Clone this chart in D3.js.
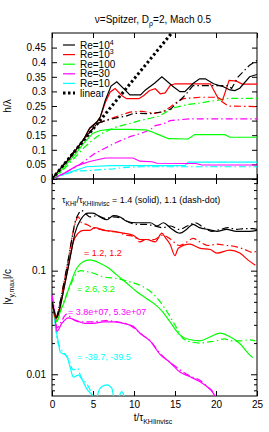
<!DOCTYPE html>
<html>
<head>
<meta charset="utf-8">
<script src="https://cdn.jsdelivr.net/npm/d3@7"></script>
<style>
  body { margin: 0; background: #fff; }
  svg text { font-family: "Liberation Sans", Arial, sans-serif; }
</style>
</head>
<body>
<div id="chart"></div>
<script>
// ---- data: [t / tau_KHIinvisc, value] ----
var xTicks = [0, 5, 10, 15, 20, 25];
var topTicks = [0, 0.05, 0.1, 0.15, 0.2, 0.25, 0.3, 0.35, 0.4, 0.45];
var botLabels = [0.01, 0.1];

var colors = ["#000000", "#ff0000", "#00ff00", "#ff00ff", "#00ffff"];
var legendNames = ["4", "3", "100", "30", "10"];   // Re=10^4, 10^3, 100, 30, 10

// top panel h/lambda, solid
var h1e4 = [[0,0],[1,0.035],[2.2,0.072],[3.8,0.133],[4.6,0.174],[5.5,0.196],[5.9,0.213],[6.5,0.27],[7.2,0.318],[7.9,0.333],[8.9,0.305],[9.5,0.288],[10.8,0.288],[11.4,0.305],[12.5,0.328],[13.4,0.35],[14.8,0.316],[15.6,0.299],[16.2,0.299],[17.2,0.327],[18,0.343],[18.7,0.343],[19.7,0.326],[20.9,0.316],[21.7,0.305],[22.3,0.303],[22.9,0.311],[24.1,0.35],[25,0.358]];
var h1e3 = [[0,0],[1,0.035],[2.2,0.072],[3.8,0.133],[4.6,0.174],[5.5,0.196],[5.9,0.213],[6.5,0.262],[7.1,0.298],[7.7,0.31],[8.5,0.286],[9.1,0.275],[10.6,0.275],[11.2,0.286],[11.9,0.303],[12.6,0.309],[13.2,0.292],[13.8,0.295],[14.4,0.32],[15,0.326],[19.3,0.326],[20.2,0.28],[20.8,0.27],[21.6,0.338],[22.5,0.335],[23.2,0.325],[25,0.325]];
var h100 = [[0,0],[1,0.025],[2.2,0.065],[3,0.09],[3.8,0.12],[5,0.157],[5.9,0.166],[7,0.17],[9.5,0.17],[11.5,0.168],[12.3,0.16],[13,0.152],[14.2,0.138],[16.6,0.137],[17.4,0.152],[21.1,0.152],[21.7,0.143],[25,0.143]];
var h30 = [[0,0],[1.5,0.02],[3,0.045],[4.6,0.06],[6.5,0.072],[9.9,0.072],[10.7,0.061],[12.2,0.059],[12.8,0.054],[17.5,0.053],[18.3,0.048],[25,0.048]];
var h10 = [[0,0],[1,0.012],[2,0.022],[3,0.031],[4.2,0.042],[7.1,0.046],[16.2,0.046],[16.6,0.058],[25,0.058]];
// top panel, dash-dot
var h1e4d = [[0,0],[2,0.07],[4,0.14],[5.5,0.19],[6.5,0.2],[8,0.21],[9,0.215],[10,0.225],[12,0.224],[13.5,0.23],[14.5,0.24],[15.2,0.26],[15.8,0.275],[16.4,0.292],[17.2,0.32],[21.5,0.32],[21.9,0.31],[22.7,0.35],[24.1,0.39],[25,0.406]];
var h1e3d = [[0,0],[2,0.07],[4,0.14],[5.5,0.19],[6.5,0.2],[7.5,0.21],[8.3,0.218],[9.5,0.229],[11,0.232],[12.5,0.225],[13.5,0.23],[14.4,0.246],[15.2,0.263],[16,0.275],[18,0.28],[20,0.28],[20.7,0.265],[21.5,0.25],[25,0.248]];
var h100d = [[0,0],[1,0.02],[2,0.05],[3,0.08],[4,0.11],[5,0.135],[6,0.155],[7,0.168],[7.7,0.177],[9.5,0.19],[10.7,0.2],[12,0.208],[13,0.215],[14,0.23],[15,0.245],[16.5,0.255],[18,0.26],[19,0.265],[20.3,0.27],[21.5,0.276],[25,0.276]];
var h30d = [[0,0],[1,0.012],[2,0.028],[3,0.042],[3.8,0.058],[5.2,0.087],[6.7,0.109],[7.9,0.126],[9.5,0.145],[10.7,0.155],[11.95,0.168],[12.6,0.183],[13.6,0.189],[14.4,0.2],[15.6,0.203],[16.8,0.206],[25,0.206]];
var h10d = [[0,0],[1,0.01],[2,0.02],[3,0.027],[5,0.03],[7.5,0.035],[9,0.04],[11,0.042],[25,0.042]];
var hLinear = [[0,0],[14.6,0.5]];

// bottom panel |v_y,max|/c, solid
var v1e4 = [[0,0.05],[0.3,0.04],[0.55,0.035],[1,0.045],[1.5,0.07],[2,0.11],[2.4,0.16],[2.8,0.23],[3.6,0.32],[4.4,0.36],[5,0.36],[5.85,0.33],[6.7,0.31],[7.5,0.34],[8.3,0.33],[9.1,0.3],[10.3,0.29],[11.5,0.29],[12,0.29],[12.8,0.27],[13.6,0.29],[14.4,0.26],[15.6,0.23],[16.4,0.25],[17.2,0.28],[18,0.26],[19,0.25],[20.1,0.24],[21.3,0.25],[22.5,0.24],[24.1,0.24],[25,0.245]];
var v1e3 = [[0,0.05],[0.5,0.034],[1,0.045],[1.5,0.07],[2,0.11],[2.6,0.19],[3.2,0.23],[3.8,0.245],[4.6,0.245],[5.2,0.26],[6.3,0.245],[7.5,0.24],[8.7,0.23],[9.9,0.22],[10.7,0.2],[11.5,0.2],[12.6,0.19],[13.4,0.23],[13.8,0.21],[14.4,0.18],[15,0.14],[15.4,0.165],[16.8,0.18],[18,0.165],[19.3,0.16],[20.1,0.148],[21.7,0.158],[22.9,0.148],[24,0.125],[24.8,0.113]];
var v100 = [[0,0.05],[0.57,0.032],[1,0.04],[1.5,0.05],[2.2,0.073],[3,0.105],[3.8,0.122],[4.6,0.127],[5.85,0.118],[6.9,0.106],[7.9,0.091],[9.1,0.076],[10.3,0.063],[11.5,0.054],[12.6,0.047],[13.5,0.04],[14.4,0.032],[15.6,0.024],[16.4,0.022],[18,0.021],[19.3,0.023],[20.5,0.025],[21.7,0.023],[22.9,0.0198],[24.1,0.0154],[24.5,0.0145]];
var v30 = [[0,0.056],[0.3,0.04],[0.6,0.026],[1.2,0.031],[2,0.035],[3,0.033],[4,0.031],[5,0.031],[6.3,0.032],[7.5,0.032],[8.7,0.031],[9.9,0.029],[10.7,0.025],[11.95,0.021],[13.2,0.0155],[14.4,0.013],[15.6,0.0105],[16.8,0.0095],[18,0.0085],[19,0.0075],[19.7,0.0065],[20,0.0058]];
var v10 = [[0,0.052],[0.3,0.035],[0.6,0.024],[0.8,0.02],[1,0.0165],[1.8,0.015],[2.2,0.0118],[2.6,0.0094],[3.2,0.0098],[3.8,0.0085],[4.2,0.0073],[5,0.0062],[5.3,0.0057],[5.85,0.0073],[6.7,0.0079],[7.3,0.0073],[7.6,0.0058],[8,0.0058],[8.5,0.0068],[8.9,0.0058]];
// bottom panel, dash-dot
var v1e4d = [[0,0.05],[0.5,0.036],[1,0.05],[1.5,0.08],[2,0.13],[2.5,0.22],[2.8,0.29],[3.2,0.35],[3.6,0.38],[4.2,0.35],[4.6,0.33],[5.5,0.34],[6.5,0.32],[7.5,0.33],[8.5,0.32],[9.5,0.29],[10.5,0.28],[11.5,0.28],[12.5,0.27],[13.5,0.26],[14.5,0.27],[15.5,0.25],[16.5,0.27],[17.5,0.29],[18.5,0.26],[19.5,0.24],[20.5,0.25],[21.5,0.26],[22.5,0.25],[23.5,0.255],[24.5,0.255],[25,0.25]];
var v1e3d = [[0,0.05],[0.5,0.035],[1,0.05],[1.5,0.08],[2,0.13],[2.5,0.22],[2.9,0.3],[3.2,0.33],[3.6,0.29],[4.2,0.28],[5,0.26],[6,0.25],[7,0.24],[8,0.235],[9,0.22],[10,0.215],[10.7,0.19],[11.5,0.2],[12.5,0.2],[13.5,0.22],[14.5,0.2],[15.5,0.175],[16.5,0.19],[17.2,0.205],[18,0.19],[19,0.175],[20.1,0.18],[21.3,0.175],[22.5,0.17],[23.5,0.16],[24.5,0.15],[25,0.155]];
var v100d = [[0,0.05],[0.6,0.033],[1.2,0.045],[2,0.065],[2.5,0.08],[3,0.095],[3.5,0.1],[4.2,0.098],[5,0.095],[6.3,0.087],[7.9,0.084],[9.5,0.078],[11.1,0.07],[12,0.063],[13.2,0.05],[14.4,0.036],[15.2,0.028],[16,0.022],[17,0.0205],[18,0.02],[19,0.0205],[20,0.021],[21,0.022],[22,0.021],[23,0.021],[24,0.0215],[24.8,0.021]];
var v30d = [[0,0.058],[0.3,0.042],[0.6,0.028],[1.1,0.032],[1.8,0.038],[2.5,0.034],[3.5,0.032],[5,0.032],[6.5,0.033],[8,0.032],[9,0.031],[10,0.028],[11,0.024],[12,0.021],[13,0.0165],[14,0.0138],[15,0.012],[16,0.0105],[17,0.0095],[18,0.0088],[19,0.0075],[19.7,0.0066],[20,0.0058]];
var v10d = [[0,0.055],[0.3,0.035],[0.6,0.022],[1,0.018],[1.5,0.016],[2,0.014],[2.6,0.011],[3.1,0.0115],[3.5,0.0095],[4,0.0085],[4.6,0.0072],[5,0.0058]];

var topSolid = [h1e4, h1e3, h100, h30, h10];
var topDash = [h1e4d, h1e3d, h100d, h30d, h10d];
var botSolid = [v1e4, v1e3, v100, v30, v10];
var botDash = [v1e4d, v1e3d, v100d, v30d, v10d];

// ---- layout ----
var W = 269, H = 432;
var left = 52, right = 257, top1 = 33, mid = 179, bot = 396;
var dashPat = "7,3,1.5,3";

var svg = d3.select("#chart").append("svg")
    .attr("width", W).attr("height", H);

var x = d3.scaleLinear().domain([0, 25]).range([left, right]);
var yTop = d3.scaleLinear().domain([0, 0.5]).range([mid, top1]);
var yBot = d3.scaleLog().domain([0.00617, 0.767]).range([bot, mid]);

svg.append("clipPath").attr("id", "clipTop").append("rect")
    .attr("x", left).attr("y", top1).attr("width", right - left).attr("height", mid - top1);
svg.append("clipPath").attr("id", "clipBot").append("rect")
    .attr("x", left).attr("y", mid).attr("width", right - left).attr("height", bot - mid);

// title
var title = svg.append("text").attr("x", 153).attr("y", 23)
    .attr("text-anchor", "middle").attr("font-size", 10);
title.append("tspan").text("\u03bd=Spitzer, D");
title.append("tspan").attr("font-size", 7).attr("dy", 2.5).text("\u03c1");
title.append("tspan").attr("dy", -2.5).text("=2, Mach 0.5");

// ---- axes (inward ticks, mirrored) ----
function styleAxis(g) {
    g.select(".domain").remove();
    g.selectAll("text").attr("font-size", 10).attr("fill", "#000")
        .attr("font-family", "Liberation Sans, Arial, sans-serif");
}

// top panel y
svg.append("g").attr("transform", "translate(" + left + ",0)")
    .call(d3.axisLeft(yTop).tickValues(topTicks).tickSize(-5).tickPadding(6)
        .tickFormat(function (d) { return d === 0 ? "0" : d3.format("")(+d.toFixed(2)); }))
    .call(styleAxis);
svg.append("g").attr("transform", "translate(" + right + ",0)")
    .call(d3.axisRight(yTop).tickValues(topTicks).tickSize(-5).tickFormat(""))
    .call(styleAxis);

// x ticks: top of top panel, both sides of the shared edge, bottom
svg.append("g").attr("transform", "translate(0," + top1 + ")")
    .call(d3.axisTop(x).tickValues(xTicks).tickSize(-5).tickFormat(""))
    .call(styleAxis);
svg.append("g").attr("transform", "translate(0," + mid + ")")
    .call(d3.axisBottom(x).tickValues(xTicks).tickSize(-5).tickFormat(""))
    .call(styleAxis);
svg.append("g").attr("transform", "translate(0," + mid + ")")
    .call(d3.axisTop(x).tickValues(xTicks).tickSize(-5).tickFormat(""))
    .call(styleAxis);
svg.append("g").attr("transform", "translate(0," + bot + ")")
    .call(d3.axisBottom(x).tickValues(xTicks).tickSize(-5).tickPadding(5))
    .call(styleAxis);

// bottom panel log y: major + minor
var logTicks = yBot.ticks();
var isMajor = function (d) { return botLabels.indexOf(d) >= 0; };
[[left, d3.axisLeft, 1], [right, d3.axisRight, 0]].forEach(function (a) {
    svg.append("g").attr("transform", "translate(" + a[0] + ",0)")
        .call(a[1](yBot).tickValues(botLabels).tickSize(-6).tickPadding(6)
            .tickFormat(a[2] ? function (d) { return String(d); } : ""))
        .call(styleAxis);
    svg.append("g").attr("transform", "translate(" + a[0] + ",0)")
        .call(a[1](yBot).tickValues(logTicks.filter(function (d) { return !isMajor(d); }))
            .tickSize(-3).tickFormat(""))
        .call(styleAxis);
});

// frames
svg.append("rect").attr("x", left).attr("y", top1).attr("width", right - left).attr("height", mid - top1)
    .attr("fill", "none").attr("stroke", "#000").attr("stroke-width", 1);
svg.append("rect").attr("x", left).attr("y", mid).attr("width", right - left).attr("height", bot - mid)
    .attr("fill", "none").attr("stroke", "#000").attr("stroke-width", 1);

// ---- lines ----
var lineTop = d3.line().x(function (d) { return x(d[0]); }).y(function (d) { return yTop(d[1]); });
var lineBot = d3.line().x(function (d) { return x(d[0]); }).y(function (d) { return yBot(d[1]); })
    .curve(d3.curveMonotoneX);

var gTop = svg.append("g").attr("clip-path", "url(#clipTop)");
var gBot = svg.append("g").attr("clip-path", "url(#clipBot)");

// draw lowest Re first so black ends on top
for (var i = 4; i >= 0; i--) {
    gTop.append("path").datum(topDash[i]).attr("d", lineTop)
        .attr("fill", "none").attr("stroke", colors[i]).attr("stroke-width", 1.2)
        .attr("stroke-dasharray", dashPat);
    gTop.append("path").datum(topSolid[i]).attr("d", lineTop)
        .attr("fill", "none").attr("stroke", colors[i]).attr("stroke-width", 1.2);
    gBot.append("path").datum(botDash[i]).attr("d", lineBot)
        .attr("fill", "none").attr("stroke", colors[i]).attr("stroke-width", 1.2)
        .attr("stroke-dasharray", dashPat);
    gBot.append("path").datum(botSolid[i]).attr("d", lineBot)
        .attr("fill", "none").attr("stroke", colors[i]).attr("stroke-width", 1.2);
}
gTop.append("path").datum(hLinear).attr("d", lineTop)
    .attr("fill", "none").attr("stroke", "#000").attr("stroke-width", 3)
    .attr("stroke-dasharray", "2.5,2.5");

// ---- legend ----
var legY0 = 45, legDy = 9.6;
legendNames.forEach(function (n, i) {
    var yy = legY0 + i * legDy;
    svg.append("line").attr("x1", 63).attr("x2", 75).attr("y1", yy).attr("y2", yy)
        .attr("stroke", colors[i]).attr("stroke-width", 1.2);
    var t = svg.append("text").attr("x", 80).attr("y", yy + 3.5).attr("font-size", 10);
    if (i < 2) {
        t.append("tspan").text("Re=10");
        t.append("tspan").attr("font-size", 7).attr("dy", -4).text(n);
    } else {
        t.text("Re=" + n);
    }
});
var yLin = legY0 + 5 * legDy;
svg.append("line").attr("x1", 63).attr("x2", 75).attr("y1", yLin).attr("y2", yLin)
    .attr("stroke", "#000").attr("stroke-width", 3).attr("stroke-dasharray", "2.5,2.5");
svg.append("text").attr("x", 80).attr("y", yLin + 3.5).attr("font-size", 10).text("linear");

// ---- annotations in bottom panel ----
var ann = svg.append("text").attr("x", 62).attr("y", 203).attr("font-size", 9);
ann.append("tspan").text("\u03c4");
ann.append("tspan").attr("font-size", 6.5).attr("dy", 2.5).text("KHI");
ann.append("tspan").attr("dy", -2.5).text("/\u03c4");
ann.append("tspan").attr("font-size", 6.5).attr("dy", 2.5).text("KHIinvisc");
ann.append("tspan").attr("dy", -2.5).text(" = 1.4 (solid), 1.1 (dash-dot)");

var ratioText = ["= 1.2, 1.2", "= 2.6, 3.2", "= 3.8e+07, 5.3e+07", "= -39.7, -39.5"];
var ratioPos = [[84, 256], [77, 292], [68, 315], [77, 360]];
ratioText.forEach(function (s, i) {
    svg.append("text").attr("x", ratioPos[i][0]).attr("y", ratioPos[i][1])
        .attr("font-size", 9).attr("fill", colors[i + 1]).text(s);
});

// ---- axis titles ----
var yl1 = svg.append("text").attr("transform", "translate(11,106) rotate(-90)")
    .attr("text-anchor", "middle").attr("font-size", 10);
yl1.text("h/\u03bb");

var yl2 = svg.append("text").attr("transform", "translate(11,287) rotate(-90)")
    .attr("text-anchor", "middle").attr("font-size", 10);
yl2.append("tspan").text("|v");
yl2.append("tspan").attr("font-size", 7).attr("dy", 2.5).text("y,max");
yl2.append("tspan").attr("dy", -2.5).text("|/c");

var xl = svg.append("text").attr("x", 153).attr("y", 421)
    .attr("text-anchor", "middle").attr("font-size", 10);
xl.append("tspan").text("t/\u03c4");
xl.append("tspan").attr("font-size", 7).attr("dy", 2.5).text("KHIinvisc");
</script>
</body>
</html>
